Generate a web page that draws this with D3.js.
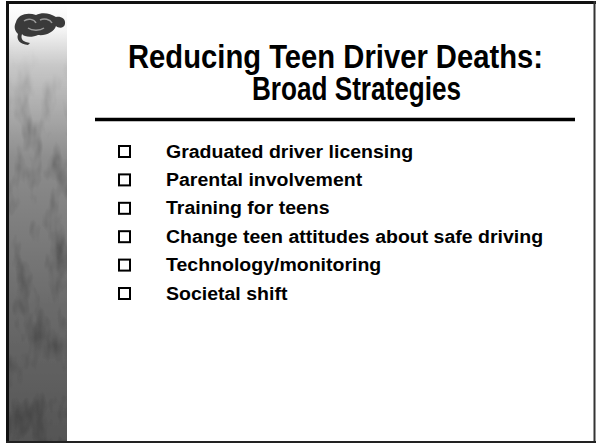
<!DOCTYPE html>
<html>
<head>
<meta charset="utf-8">
<script src="https://cdn.jsdelivr.net/npm/d3@7"></script>
<style>
  html, body { margin: 0; padding: 0; background: #fff; }
  svg { display: block; }
</style>
</head>
<body>
<svg id="slide"></svg>
<script>
// slide content
const titleLines = ["Reducing Teen Driver Deaths:", "Broad Strategies"]
const bulletItems = [
  "Graduated driver licensing",
  "Parental involvement",
  "Training for teens",
  "Change teen attitudes about safe driving",
  "Technology/monitoring",
  "Societal shift"
]

const W = 596, H = 444

const svg = d3.select('#slide')
  .attr('width', W)
  .attr('height', H)

const defs = svg.append('defs')

// gradient for the left photo strip
const grad = defs.append('linearGradient')
  .attr('id', 'stripGrad')
  .attr('x1', 0).attr('y1', 0).attr('x2', 0).attr('y2', 1)
const stops = [[0, '#ffffff'], [0.06, '#f4f4f4'], [0.14, '#c8c8c8'], [0.35, '#8e8e8e'], [0.7, '#6a6a6a'], [1, '#555555']]
stops.forEach(s => grad.append('stop').attr('offset', s[0]).attr('stop-color', s[1]))

// noisy texture so the strip looks like a photo
const filt = defs.append('filter').attr('id', 'grain')
  .attr('x', 0).attr('y', 0).attr('width', 1).attr('height', 1)
filt.append('feTurbulence')
  .attr('type', 'fractalNoise')
  .attr('baseFrequency', '0.06 0.025')
  .attr('numOctaves', 3)
  .attr('seed', 4)
  .attr('result', 'noise')
filt.append('feColorMatrix')
  .attr('in', 'noise')
  .attr('type', 'matrix')
  .attr('values', '0 0 0 0 0  0 0 0 0 0  0 0 0 0 0  0 0 0 -1.4 0.75')
  .attr('result', 'shade')
filt.append('feComposite')
  .attr('in', 'shade')
  .attr('in2', 'SourceGraphic')
  .attr('operator', 'atop')

const fadeMask = defs.append('linearGradient')
  .attr('id', 'fadeGrad')
  .attr('x1', 0).attr('y1', 0).attr('x2', 0).attr('y2', 1)
fadeMask.append('stop').attr('offset', 0).attr('stop-color', '#000')
fadeMask.append('stop').attr('offset', 0.1).attr('stop-color', '#000')
fadeMask.append('stop').attr('offset', 0.3).attr('stop-color', '#fff')
defs.append('mask').attr('id', 'fade')
  .append('rect').attr('x', 0).attr('y', 0).attr('width', W).attr('height', H)
  .attr('fill', 'url(#fadeGrad)')

// left strip
const strip = { x: 9, y: 4, w: 58, h: 437 }
svg.append('rect')
  .attr('x', strip.x).attr('y', strip.y)
  .attr('width', strip.w).attr('height', strip.h)
  .attr('fill', 'url(#stripGrad)')
svg.append('rect')
  .attr('x', strip.x).attr('y', strip.y)
  .attr('width', strip.w).attr('height', strip.h)
  .attr('fill', 'url(#stripGrad)')
  .attr('filter', 'url(#grain)')
  .attr('mask', 'url(#fade)')
  .style('opacity', 0.8)

// rough logo blob, top left
const logo = svg.append('g').attr('transform', 'translate(14,12)')
logo.append('path')
  .attr('d', 'M2,10 C4,2 14,0 22,3 C28,0 36,1 42,5 C46,4 52,6 51,12 C50,17 44,16 42,14 C40,20 32,24 24,23 C18,26 10,25 8,22 C6,28 10,30 16,31 L14,33 C6,32 2,28 4,22 C0,18 0,14 2,10 Z')
  .attr('fill', '#3a3a3a')
logo.append('path')
  .attr('d', 'M10,9 C14,6 20,7 22,11 M26,8 C30,6 36,7 38,11 M14,16 C18,19 26,19 30,16')
  .attr('fill', 'none')
  .attr('stroke', '#9a9a9a')
  .attr('stroke-width', 1.5)

// frame
svg.append('line').attr('x1', 6).attr('x2', 596).attr('y1', 2.5).attr('y2', 2.5)
  .attr('stroke', '#111').attr('stroke-width', 3)
svg.append('line').attr('x1', 7.5).attr('x2', 7.5).attr('y1', 1).attr('y2', 443)
  .attr('stroke', '#111').attr('stroke-width', 3)
svg.append('line').attr('x1', 594.5).attr('x2', 594.5).attr('y1', 1).attr('y2', 443)
  .attr('stroke', '#333').attr('stroke-width', 2)
svg.append('line').attr('x1', 6).attr('x2', 596).attr('y1', 442).attr('y2', 442)
  .attr('stroke', '#222').attr('stroke-width', 2)

// title, squeezed to look like the condensed face of the original
const titleY = d3.scalePoint().domain(titleLines).range([68, 100])
const titleX = { [titleLines[0]]: 128, [titleLines[1]]: 252 }
const titleW = { [titleLines[0]]: 415, [titleLines[1]]: 209 }
svg.selectAll('text.title')
  .data(titleLines)
  .enter()
  .append('text')
  .attr('class', 'title')
  .attr('x', d => titleX[d])
  .attr('y', d => titleY(d))
  .attr('textLength', d => titleW[d])
  .attr('lengthAdjust', 'spacingAndGlyphs')
  .style('font-family', "'Liberation Sans', Arial, sans-serif")
  .style('font-weight', 'bold')
  .style('font-size', '32.5px')
  .style('fill', '#000')
  .text(d => d)

// rule under title
svg.append('line')
  .attr('x1', 95).attr('x2', 575)
  .attr('y1', 119.5).attr('y2', 119.5)
  .attr('stroke', '#000').attr('stroke-width', 3.5)

// bullet list
const rowY = d3.scalePoint().domain(bulletItems).range([151.5, 293.5])

const rows = svg.selectAll('g.row')
  .data(bulletItems)
  .enter()
  .append('g')
  .attr('class', 'row')
  .attr('transform', d => `translate(0,${rowY(d)})`)

rows.append('rect')
  .attr('x', 119).attr('y', -5.5)
  .attr('width', 11).attr('height', 11)
  .attr('fill', 'none')
  .attr('stroke', '#000')
  .attr('stroke-width', 2)

rows.append('text')
  .attr('transform', 'translate(166,6) scale(1.055,1)')
  .style('font-family', "'Liberation Sans', Arial, sans-serif")
  .style('font-weight', 'bold')
  .style('font-size', '18.5px')
  .style('fill', '#000')
  .text(d => d)
</script>
</body>
</html>
